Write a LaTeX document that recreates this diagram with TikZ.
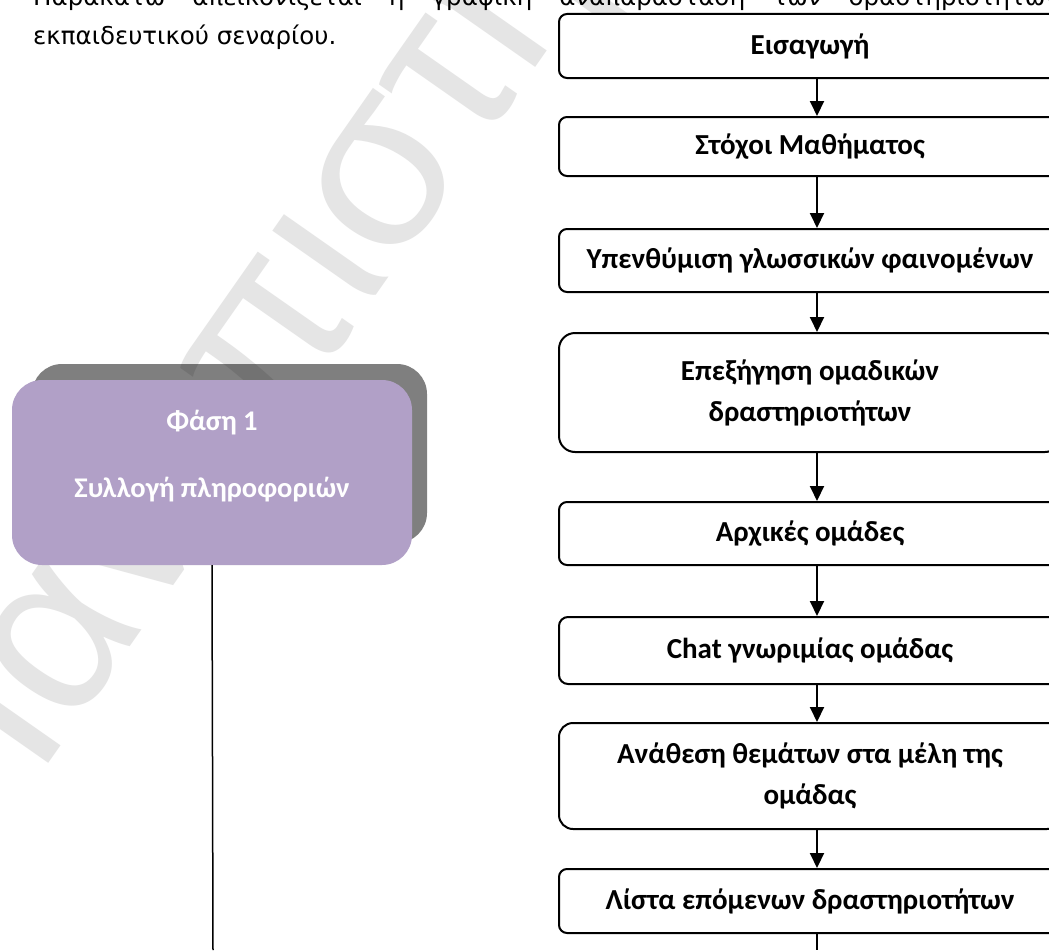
\documentclass[tikz,border=0pt]{standalone}
\usepackage{fontspec}
\setmainfont{DejaVu Sans}
\newfontfamily\boxfont{Carlito}
\newfontfamily\wmfont{Liberation Sans}
\usetikzlibrary{arrows.meta}
\definecolor{lav}{HTML}{B1A0C7}
\definecolor{wmgray}{HTML}{E5E5E5}
\begin{document}
\begin{tikzpicture}[x=1pt,y=-1pt,
  flowbox/.style={draw=black, line width=2pt, fill=white, minimum width=502pt,
    inner sep=0pt, align=center, font=\boxfont\bfseries\fontsize{29}{41}\selectfont},
  flowarrow/.style={line width=2pt, -{Triangle[width=14pt,length=15pt]}},
  plainline/.style={line width=2pt},
  phasebox/.style={fill=lav, minimum width=400pt, minimum height=185pt, rounded corners=30pt, inner sep=0pt},
  shadowbox/.style={fill=black, opacity=0.5, minimum width=395pt, minimum height=179pt, rounded corners=30pt, inner sep=0pt},
  phasetext/.style={text=white, inner sep=0pt, font=\boxfont\bfseries\fontsize{28.5}{34}\selectfont},
  bodytext/.style={inner sep=0pt, font=\fontsize{24.5}{39}\selectfont},
  wmtext/.style={text=wmgray, inner sep=0pt, font=\wmfont\fontsize{230}{230}\selectfont}
]
\useasboundingbox (0,0) rectangle (1049,950);
\clip (0,0) rectangle (1049,950);
\fill[white] (0,0) rectangle (1049,950);

% watermark
\node[wmtext, anchor=base west, rotate=55] (wm) at (-23.5,866.7) {Πανεπιστήμιο};

% body text
\node[bodytext, anchor=base west] (l1) at (33,6) {\makebox[1026pt][s]{Παρακάτω απεικονίζεται η γραφική αναπαράσταση των δραστηριοτήτων}};
\node[bodytext, anchor=base west] (l2) at (33,45) {εκπαιδευτικού σεναρίου.};

% phase box
\node[shadowbox] (sh) at (229.5,453.5) {};
\node[phasebox] (ph) at (212,472.5) {};
\node[phasetext, anchor=base] (ph1) at (212,430) {Φάση 1};
\node[phasetext, anchor=base] (ph2) at (212,497) {Συλλογή πληροφοριών};
\coordinate (phend) at (213,950);
\draw[line width=1.5pt] (ph.south) -- (phend);

% flowchart
\node[flowbox, minimum height=64pt, rounded corners=8pt] (b1) at (810,46) {Εισαγωγή};
\node[flowbox, minimum height=59pt, rounded corners=8pt] (b2) at (810,146.5) {Στόχοι Μαθήματος};
\node[flowbox, minimum height=63pt, rounded corners=8pt] (b3) at (810,260.5) {Υπενθύμιση γλωσσικών φαινομένων};
\node[flowbox, minimum height=119pt, rounded corners=16pt] (b4) at (810,392.5) {Επεξήγηση ομαδικών\\δραστηριοτήτων};
\node[flowbox, minimum height=63pt, rounded corners=8pt] (b5) at (810,533.5) {Αρχικές ομάδες};
\node[flowbox, minimum height=67pt, rounded corners=9pt] (b6) at (810,650.5) {Chat γνωριμίας ομάδας};
\node[flowbox, minimum height=106pt, rounded corners=14pt] (b7) at (810,776) {Ανάθεση θεμάτων στα μέλη της\\ομάδας};
\node[flowbox, minimum height=64pt, rounded corners=8pt] (b8) at (810,901) {Λίστα επόμενων δραστηριοτήτων};
\coordinate (flowend) at (817,950);

\draw[flowarrow] ([xshift=7pt]b1.south) -- ([xshift=7pt]b2.north);
\draw[flowarrow] ([xshift=7pt]b2.south) -- ([xshift=7pt]b3.north);
\draw[flowarrow] ([xshift=7pt]b3.south) -- ([xshift=7pt]b4.north);
\draw[flowarrow] ([xshift=7pt]b4.south) -- ([xshift=7pt]b5.north);
\draw[flowarrow] ([xshift=7pt]b5.south) -- ([xshift=7pt]b6.north);
\draw[flowarrow] ([xshift=7pt]b6.south) -- ([xshift=7pt]b7.north);
\draw[flowarrow] ([xshift=7pt]b7.south) -- ([xshift=7pt]b8.north);
\draw[plainline] ([xshift=7pt]b8.south) -- (flowend);
\end{tikzpicture}
\end{document}
